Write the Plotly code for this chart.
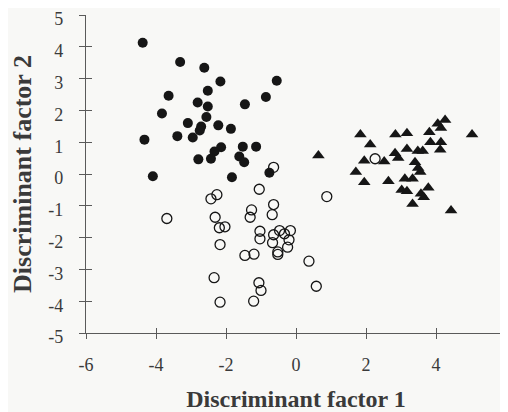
import plotly.graph_objects as go

# Group 1: filled circles
g1_x = [-4.38, -3.31, -2.62, -2.16, -0.55, -3.64, -2.52, -2.81, -2.52, -1.46, -0.86, -3.83,
        -2.56, -3.09, -2.71, -2.22, -1.86, -2.75, -3.39, -2.95, -4.33, -2.14, -2.33, -2.43,
        -2.79, -1.52, -1.14, -1.62, -1.48, -4.09, -1.83, -0.76]
g1_y = [4.13, 3.52, 3.34, 2.91, 2.93, 2.46, 2.62, 2.25, 2.12, 2.19, 2.42, 1.90,
        1.79, 1.60, 1.49, 1.53, 1.42, 1.37, 1.19, 1.15, 1.08, 0.84, 0.71, 0.48,
        0.46, 0.86, 0.86, 0.55, 0.37, -0.07, -0.10, 0.04]

# Group 2: open circles
g2_x = [-0.64, -2.26, -2.43, -1.05, 0.88, -3.69, -0.64, -1.27, -1.31, -0.68, -2.31, -2.19,
        -2.03, -1.03, -1.03, -0.47, -0.16, -0.64, -0.33, -0.67, -0.20, -0.24, -2.17, -0.52,
        -0.52, -1.46, -1.20, 0.37, -2.34, -1.06, -1.00, 0.58, -2.17, -1.21, 2.26]
g2_y = [0.21, -0.65, -0.78, -0.48, -0.71, -1.40, -0.96, -1.13, -1.36, -1.28, -1.36, -1.69,
        -1.66, -1.80, -2.04, -1.78, -1.78, -1.91, -1.88, -2.16, -2.07, -2.30, -2.22, -2.45,
        -2.53, -2.56, -2.52, -2.74, -3.26, -3.42, -3.66, -3.53, -4.03, -4.00, 0.48]

# Group 3: filled triangles
g3_x = [0.64, 1.84, 2.12, 1.95, 1.71, 1.95, 2.84, 3.17, 2.52, 2.64, 2.83, 2.92,
        3.17, 3.48, 3.62, 3.40, 3.49, 3.55, 3.11, 3.33, 3.02, 3.17, 3.78, 3.57,
        3.65, 3.33, 4.43, 3.81, 3.84, 4.05, 4.26, 4.14, 4.14, 4.12, 5.03]
g3_y = [0.58, 1.24, 0.93, 0.42, 0.06, -0.26, 1.24, 1.28, 0.39, -0.23, 0.65, 0.50,
        0.79, 0.72, 0.72, 0.37, 0.19, 0.06, -0.15, -0.15, -0.50, -0.54, -0.43, -0.62,
        -0.73, -0.94, -1.15, 1.31, 1.00, 1.58, 1.70, 1.45, 1.00, 0.76, 1.24]

x_ticks = [-6, -4, -2, 0, 2, 4, 6]
y_ticks = [-5, -4, -3, -2, -1, 0, 1, 2, 3, 4, 5]

ink = "#161616"
axis_col = "#5a5a5a"
text_col = "#3a3a3a"
font_fam = "Liberation Serif, Times New Roman, serif"

fig = go.Figure()
fig.add_trace(go.Scatter(x=g1_x, y=g1_y, mode="markers",
                         marker=dict(symbol="circle", size=10, color=ink, line=dict(width=0))))
fig.add_trace(go.Scatter(x=g2_x, y=g2_y, mode="markers",
                         marker=dict(symbol="circle-open", size=10, color=ink, line=dict(width=1.3))))
fig.add_trace(go.Scatter(x=g3_x, y=g3_y, mode="markers",
                         marker=dict(symbol="triangle-up", size=11, color=ink, line=dict(width=0))))
# carrier trace for the inner half of the crossing ticks
fig.add_trace(go.Scatter(x=[x_ticks[0]], y=[y_ticks[0]], xaxis="x2", yaxis="y2", mode="markers",
                         marker=dict(size=1, opacity=0), showlegend=False, hoverinfo="skip"))

fig.update_layout(
    width=500, height=404,
    margin=dict(l=78, r=2, t=6.5, b=79, autoexpand=False),
    paper_bgcolor="#f8f8f6", plot_bgcolor="#f8f8f6",
    showlegend=False,
    font=dict(family=font_fam, size=18, color=text_col),
    xaxis=dict(range=[-6, 6], tickvals=x_ticks, ticktext=[str(v) for v in x_ticks],
               automargin=False, ticklabeloverflow="allow",
               showgrid=False, zeroline=False, showline=True, linecolor=axis_col, linewidth=1.2,
               ticks="outside", ticklen=5, tickcolor=axis_col, tickwidth=1.2,
               ticklabelstandoff=10, tickfont=dict(size=18, color=text_col),
               title=dict(text="<b>Discriminant factor 1</b>", font=dict(size=24, color=text_col),
                          standoff=18)),
    yaxis=dict(range=[-5, 5], tickvals=y_ticks, ticktext=[str(v) for v in y_ticks],
               automargin=False, ticklabeloverflow="allow",
               showgrid=False, zeroline=False, showline=True, linecolor=axis_col, linewidth=1.2,
               ticks="outside", ticklen=6, tickcolor=axis_col, tickwidth=1.2,
               ticklabelstandoff=12, ticklabelshift=4, tickfont=dict(size=18, color=text_col),
               title=dict(text="<b>Discriminant factor 2</b>", font=dict(size=26, color=text_col),
                          standoff=10)),
    xaxis2=dict(overlaying="x", anchor="y", range=[-6, 6], tickvals=x_ticks, showticklabels=False,
                showgrid=False, zeroline=False, showline=False, ticks="inside", ticklen=5,
                tickcolor=axis_col, tickwidth=1.2, side="bottom"),
    yaxis2=dict(overlaying="y", anchor="x", range=[-5, 5], tickvals=y_ticks, showticklabels=False,
                showgrid=False, zeroline=False, showline=False, ticks="inside", ticklen=6,
                tickcolor=axis_col, tickwidth=1.2, side="left"),
)

fig.write_html("out.html")
